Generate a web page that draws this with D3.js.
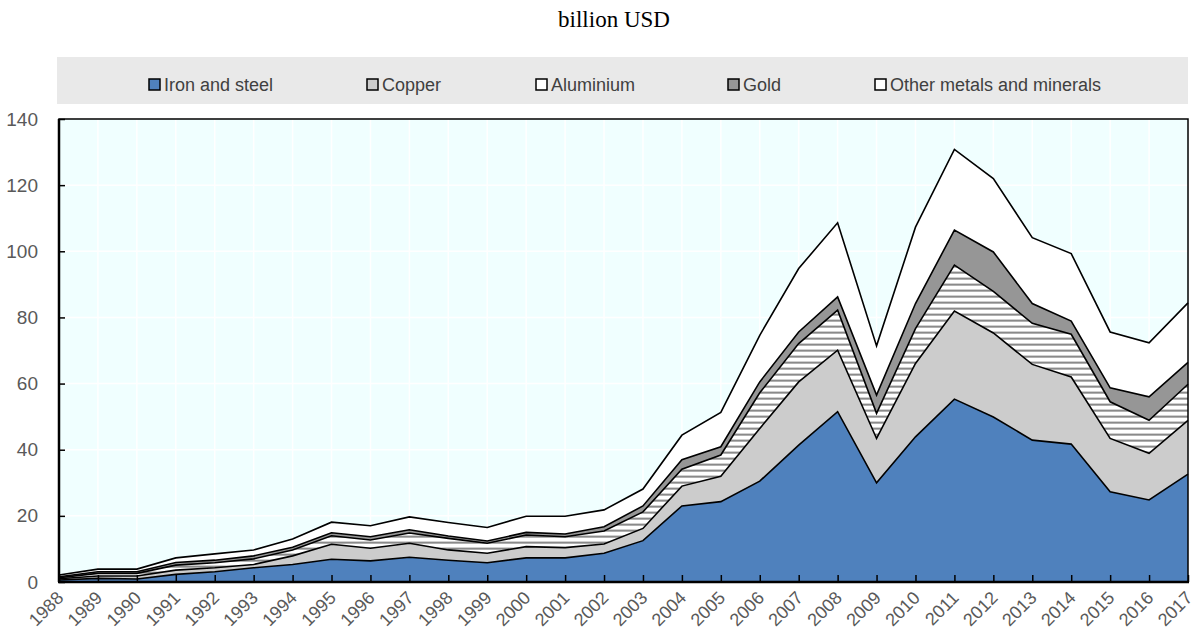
<!DOCTYPE html>
<html>
<head>
<meta charset="utf-8">
<script src="https://cdn.jsdelivr.net/npm/d3@7"></script>
<style>
body { margin: 0; background: #fff; }
svg { display: block; font-family: Arial, "Liberation Sans", sans-serif; }
</style>
</head>
<body>
<svg width="1197" height="629"></svg>
<script>
const years = [1988, 1989, 1990, 1991, 1992, 1993, 1994, 1995, 1996, 1997,
	1998, 1999, 2000, 2001, 2002, 2003, 2004, 2005, 2006, 2007,
	2008, 2009, 2010, 2011, 2012, 2013, 2014, 2015, 2016, 2017]

const ironSteel = [0.6, 1.1, 0.9, 2.3, 3.1, 4.3, 5.3, 6.9, 6.4, 7.5,
	6.6, 5.8, 7.3, 7.3, 8.7, 12.5, 23.0, 24.3, 30.5, 41.4,
	51.5, 30.0, 43.9, 55.3, 49.9, 42.9, 41.7, 27.3, 24.8, 32.6]
const copper = [0.4, 0.7, 0.9, 1.3, 1.2, 1.0, 2.6, 4.5, 3.8, 4.2,
	3.1, 2.9, 3.4, 3.1, 2.8, 3.7, 6.0, 7.7, 15.9, 19.1,
	18.6, 13.4, 22.2, 26.6, 25.4, 22.9, 20.3, 16.1, 14.1, 16.3]
const aluminium = [0.3, 0.8, 0.8, 1.5, 1.5, 1.7, 1.8, 2.6, 2.5, 3.1,
	3.5, 3.0, 3.5, 3.3, 3.9, 5.0, 5.1, 6.4, 10.8, 11.6,
	12.1, 7.6, 10.5, 13.9, 12.6, 12.4, 12.9, 11.1, 10.0, 10.9]
const gold = [0.3, 0.5, 0.5, 0.8, 0.8, 0.9, 0.8, 0.9, 1.0, 1.0,
	0.7, 0.7, 0.8, 0.8, 1.3, 1.8, 2.9, 2.5, 3.3, 3.5,
	4.0, 5.5, 7.6, 10.6, 11.9, 6.0, 4.0, 4.2, 7.1, 6.6]
const otherMetals = [0.5, 0.8, 0.8, 1.4, 1.9, 1.8, 2.5, 3.2, 3.3, 3.9,
	4.1, 4.1, 4.9, 5.4, 5.1, 5.1, 7.4, 10.4, 14.1, 19.2,
	22.4, 14.9, 23.1, 24.4, 22.2, 19.9, 20.4, 16.9, 16.3, 18.0]

const seriesNames = ['Iron and steel', 'Copper', 'Aluminium', 'Gold', 'Other metals and minerals']
const yTicks = [0, 20, 40, 60, 80, 100, 120, 140]
const unitLabel = 'billion USD'

const svg = d3.select('svg')
const plot = { left: 59, right: 1188, top: 119, bottom: 582 }

const fills = ['#4f81bd', '#cccccc', 'url(#hatch)', '#969696', '#ffffff']
const legendFills = ['#4f81bd', '#cccccc', '#ffffff', '#969696', '#ffffff']

// table for d3.stack
const columns = [ironSteel, copper, aluminium, gold, otherMetals]
const table = years.map((yr, i) => {
	const row = { year: yr }
	seriesNames.forEach((k, j) => { row[k] = columns[j][i] })
	return row
})

const x = d3.scalePoint().domain(years).range([plot.left, plot.right])
const y = d3.scaleLinear().domain([0, 140]).range([plot.bottom, plot.top])

/* hatch for aluminium */
const defs = svg.append('defs')
const pat = defs.append('pattern')
	.attr('id', 'hatch')
	.attr('patternUnits', 'userSpaceOnUse')
	.attr('width', 8)
	.attr('height', 6)
pat.append('rect').attr('width', 8).attr('height', 6).attr('fill', '#fff')
pat.append('rect').attr('y', 1).attr('width', 8).attr('height', 1).attr('fill', '#d0d0d0')
pat.append('rect').attr('y', 2).attr('width', 8).attr('height', 1).attr('fill', '#8a8a8a')
pat.append('rect').attr('y', 3).attr('width', 8).attr('height', 1).attr('fill', '#b0b0b0')

/* title */
svg.append('text')
	.attr('x', 614)
	.attr('y', 27)
	.attr('text-anchor', 'middle')
	.style('font-family', '"Times New Roman", "Liberation Serif", serif')
	.style('font-size', '23px')
	.attr('fill', '#000')
	.text(unitLabel)

/* legend */
svg.append('rect')
	.attr('x', 57).attr('y', 57)
	.attr('width', 1131).attr('height', 47)
	.attr('fill', '#e9e9e9')

const legendX = [149, 367, 536, 728, 875]
const lg = svg.selectAll('.legend')
	.data(seriesNames)
	.enter()
	.append('g')
	.attr('class', 'legend')
	.attr('transform', (d, i) => `translate(${legendX[i]},79)`)
lg.append('rect')
	.attr('width', 11).attr('height', 11)
	.attr('fill', (d, i) => legendFills[i])
	.attr('stroke', '#000')
	.attr('stroke-width', 1.5)
lg.append('text')
	.attr('x', 15)
	.attr('y', 5.5)
	.attr('dy', '0.35em')
	.style('font-size', '18px')
	.attr('fill', '#404040')
	.text(d => d)

/* plot background + grid */
svg.append('rect')
	.attr('x', plot.left).attr('y', plot.top)
	.attr('width', plot.right - plot.left).attr('height', plot.bottom - plot.top)
	.attr('fill', '#f0ffff')

svg.append('g')
	.selectAll('line')
	.data(yTicks.slice(1, -1))
	.enter()
	.append('line')
	.attr('x1', plot.left).attr('x2', plot.right)
	.attr('y1', d => y(d)).attr('y2', d => y(d))
	.attr('stroke', '#fff').attr('stroke-width', 1.5)

svg.append('g')
	.selectAll('line')
	.data(years.slice(1, -1))
	.enter()
	.append('line')
	.attr('x1', d => x(d)).attr('x2', d => x(d))
	.attr('y1', plot.top).attr('y2', plot.bottom)
	.attr('stroke', '#fff').attr('stroke-width', 1.5)

/* stacked areas */
const stack = d3.stack().keys(seriesNames)
const layers = stack(table)

const area = d3.area()
	.x(d => x(d.data.year))
	.y0(d => y(d[0]))
	.y1(d => y(d[1]))

const topLine = d3.line()
	.x(d => x(d.data.year))
	.y(d => y(d[1]))

const g = svg.append('g')
g.selectAll('.area')
	.data(layers)
	.enter()
	.append('path')
	.attr('class', 'area')
	.attr('d', area)
	.attr('fill', (d, i) => fills[i])

g.selectAll('.edge')
	.data(layers)
	.enter()
	.append('path')
	.attr('class', 'edge')
	.attr('d', topLine)
	.attr('fill', 'none')
	.attr('stroke', '#000')
	.attr('stroke-width', 1.6)
	.attr('stroke-linejoin', 'miter')

/* axes */
const yAxis = d3.axisLeft(y).tickValues(yTicks).tickSize(-6).tickPadding(21)
const ya = svg.append('g').attr('transform', `translate(${plot.left},0)`).call(yAxis)
ya.select('.domain').remove()
ya.selectAll('line').attr('stroke', '#000').attr('stroke-width', 1.5)
ya.selectAll('text')
	.style('font-size', '19px')
	.style('font-family', 'Arial, "Liberation Sans", sans-serif')
	.attr('fill', '#595959')

const xAxis = d3.axisBottom(x).tickSize(-7).tickFormat(d => d)
const xa = svg.append('g').attr('transform', `translate(0,${plot.bottom})`).call(xAxis)
xa.select('.domain').remove()
xa.selectAll('line').attr('stroke', '#000').attr('stroke-width', 1.5)
xa.selectAll('text')
	.style('font-size', '18px')
	.style('font-family', 'Arial, "Liberation Sans", sans-serif')
	.attr('fill', '#595959')
	.attr('text-anchor', 'end')
	.attr('y', 0)
	.attr('dy', 0)
	.attr('transform', 'translate(5,17) rotate(-45)')

/* frame */
svg.append('rect')
	.attr('x', plot.left).attr('y', plot.top)
	.attr('width', plot.right - plot.left).attr('height', plot.bottom - plot.top)
	.attr('fill', 'none')
	.attr('stroke', '#000')
	.attr('stroke-width', 1.5)
svg.append('line')
	.attr('x1', plot.left - 1).attr('x2', plot.right + 1)
	.attr('y1', plot.bottom).attr('y2', plot.bottom)
	.attr('stroke', '#000').attr('stroke-width', 2.5)
svg.append('line')
	.attr('x1', plot.left).attr('x2', plot.left)
	.attr('y1', plot.top).attr('y2', plot.bottom)
	.attr('stroke', '#000').attr('stroke-width', 2.5)
</script>
</body>
</html>
